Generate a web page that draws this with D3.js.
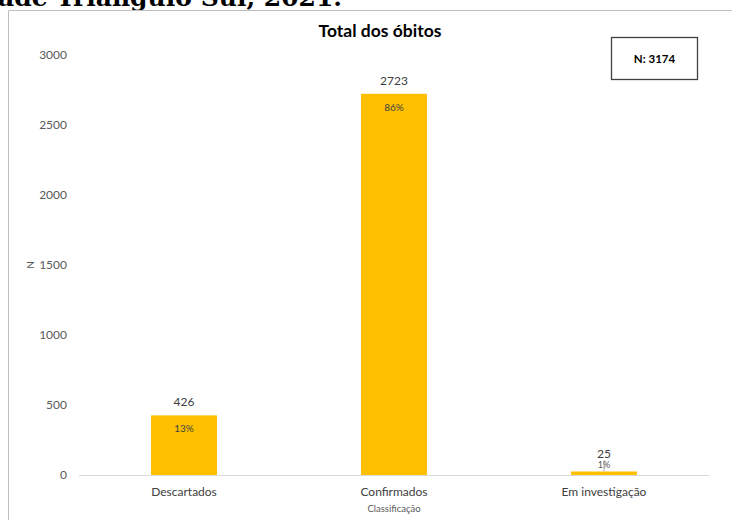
<!DOCTYPE html>
<html>
<head>
<meta charset="utf-8">
<script src="https://cdn.jsdelivr.net/npm/d3@7"></script>
<style>
  html, body { margin: 0; padding: 0; background: #fff; }
  svg { display: block; }
</style>
</head>
<body>
<svg id="chart" width="732" height="520"></svg>
<script>
// Óbitos por classificação
const categories = ["Descartados", "Confirmados", "Em investigação"];
const values = [426, 2723, 25];
const percents = ["13%", "86%", "1%"];
const yTicks = [0, 500, 1000, 1500, 2000, 2500, 3000];
const totalLabel = "N: 3174";

const svg = d3.select("#chart");
const W = 732, H = 520;
const font = "Lato, 'Open Sans', sans-serif";
const gray = "#595959";

// Heading carried over from the page above the chart
svg.append("text")
  .attr("x", -2).attr("y", 6)
  .attr("font-family", "'DejaVu Serif', serif")
  .attr("font-weight", "bold")
  .attr("font-size", 25)
  .attr("fill", "#000")
  .text("ade Triângulo Sul, 2021.");

// Chart frame (left and top edges visible)
svg.append("path")
  .attr("d", `M8.5,${H} V10.5 H${W}`)
  .attr("fill", "none")
  .attr("stroke", "#bfbfbf")
  .attr("stroke-width", 1);

const plot = { left: 79, right: 709, top: 55, bottom: 475 };

const x = d3.scaleBand()
  .domain(categories)
  .range([plot.left, plot.right])
  .paddingInner(0.686)
  .paddingOuter(0.343);

const y = d3.scaleLinear()
  .domain([0, 3000])
  .range([plot.bottom, plot.top]);

// Title
svg.append("text")
  .attr("x", 380).attr("y", 37)
  .attr("text-anchor", "middle")
  .attr("font-family", font)
  .attr("font-weight", "bold")
  .attr("font-size", 17.5)
  .attr("fill", "#000")
  .text("Total dos óbitos");

// Y axis tick labels
const yAxis = d3.axisLeft(y).tickValues(yTicks).tickSize(0).tickPadding(12).tickFormat(d3.format("d"));
const gy = svg.append("g").attr("transform", `translate(${plot.left},0)`).call(yAxis);
gy.select(".domain").remove();
gy.selectAll("text")
  .attr("font-family", font)
  .attr("font-size", 12)
  .attr("fill", gray);

// Y axis title
svg.append("text")
  .attr("transform", `translate(34,${y(1500)}) rotate(-90)`)
  .attr("text-anchor", "middle")
  .attr("font-family", font)
  .attr("font-size", 10)
  .attr("fill", gray)
  .text("N");

// Bars
svg.append("g").selectAll("rect")
  .data(values)
  .join("rect")
  .attr("x", (d, i) => x(categories[i]))
  .attr("y", d => y(d))
  .attr("width", x.bandwidth())
  .attr("height", d => y(0) - y(d))
  .attr("fill", "#ffc000");

// Baseline
svg.append("line")
  .attr("x1", plot.left).attr("x2", plot.right)
  .attr("y1", y(0) + 0.5).attr("y2", y(0) + 0.5)
  .attr("stroke", "#d9d9d9");

// X axis labels
const gx = svg.append("g").attr("transform", `translate(0,${plot.bottom})`)
  .call(d3.axisBottom(x).tickSize(0).tickPadding(12));
gx.select(".domain").remove();
gx.selectAll("text")
  .attr("font-family", font)
  .attr("font-size", 12)
  .attr("fill", "#404040");

svg.append("text")
  .attr("x", x("Confirmados") + x.bandwidth() / 2)
  .attr("y", 512)
  .attr("text-anchor", "middle")
  .attr("font-family", font)
  .attr("font-size", 9.5)
  .attr("fill", gray)
  .text("Classificação");

// Value labels above bars
const cx = i => x(categories[i]) + x.bandwidth() / 2;
const labels = svg.append("g");
values.forEach((v, i) => {
  const small = v < 100;
  labels.append("text")
    .attr("x", cx(i))
    .attr("y", small ? y(v) - 14 : y(v) - 9)
    .attr("text-anchor", "middle")
    .attr("font-family", font)
    .attr("font-size", 12)
    .attr("fill", "#404040")
    .text(v);
  if (small) {
    // leader line from label to the thin bar
    labels.append("line")
      .attr("x1", cx(i)).attr("x2", cx(i))
      .attr("y1", y(v) - 11).attr("y2", y(v))
      .attr("stroke", "#a6a6a6");
    labels.append("text")
      .attr("x", cx(i))
      .attr("y", y(v) - 4)
      .attr("text-anchor", "middle")
      .attr("font-family", font)
      .attr("font-size", 9)
      .attr("fill", gray)
      .text(percents[i]);
  } else {
    labels.append("text")
      .attr("x", cx(i))
      .attr("y", y(v) + 17)
      .attr("text-anchor", "middle")
      .attr("font-family", font)
      .attr("font-size", 10)
      .attr("fill", "#404040")
      .text(percents[i]);
  }
});

// Total box
svg.append("rect")
  .attr("x", 611.5).attr("y", 37.5)
  .attr("width", 86).attr("height", 42)
  .attr("fill", "#fff")
  .attr("stroke", "#404040")
  .attr("stroke-width", 1.3);
svg.append("text")
  .attr("x", 654.5).attr("y", 63)
  .attr("text-anchor", "middle")
  .attr("font-family", font)
  .attr("font-weight", "bold")
  .attr("font-size", 11.5)
  .attr("fill", "#000")
  .text(totalLabel);
</script>
</body>
</html>
